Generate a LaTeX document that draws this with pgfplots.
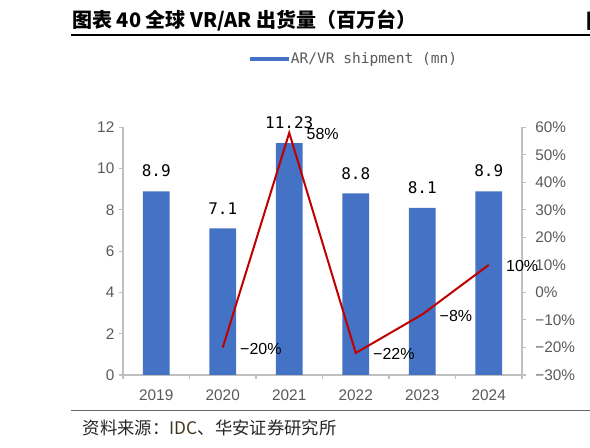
\documentclass[border=0pt]{standalone}
\usepackage{fontspec}
\setmainfont{Liberation Sans}
\newfontfamily\cjk{Noto Sans CJK SC}
\newfontfamily\mono{DejaVu Sans Mono}
\usepackage{pgfplots}
\pgfplotsset{compat=1.18}

\definecolor{barblue}{HTML}{4472C4}
\definecolor{linered}{HTML}{C00000}
\definecolor{axisgray}{HTML}{BFBFBF}
\definecolor{ticktext}{HTML}{595959}
\definecolor{idccol}{RGB}{64,56,30}

\begin{document}
\begin{tikzpicture}[x=0.75pt,y=0.75pt]
\useasboundingbox (0,0) rectangle (590,447);

% title and rules
\node[anchor=west, inner sep=0pt, font=\cjk\bfseries\fontsize{15}{17}\selectfont] at (72,426)
  {图表 40 全球 VR/AR 出货量（百万台）};
\node[anchor=west, inner sep=0pt, font=\cjk\bfseries\fontsize{15}{17}\selectfont] at (586.5,426) {图};
\draw[line width=0.8pt, black] (71,412) -- (590,412);
\draw[line width=1.1pt, black!60] (71,36.3) -- (590,36.3);
\node[anchor=west, inner sep=0pt, font=\cjk\fontsize{13}{15}\selectfont, text=black!85] at (82.7,18.7)
  {资料来源：\textcolor{idccol}{IDC}、华安证券研究所};

% bars, left axis
\begin{axis}[
  at={(92.25pt,54pt)}, anchor=south west,
  scale only axis, width=299.25pt, height=185.8pt,
  xmin=-0.5, xmax=5.5, ymin=0, ymax=12,
  axis x line*=bottom, axis y line*=left,
  axis line style={draw=axisgray, line width=0.8pt},
  tick align=outside,
  xtick={0,...,5},
  xticklabels={2019,2020,2021,2022,2023,2024},
  major x tick style={draw=none},
  minor xtick={-0.5,0.5,...,5.5},
  minor x tick style={draw=axisgray, line width=0.8pt},
  minor tick length=3pt,
  ytick={0,2,...,12},
  y tick style={draw=axisgray, line width=0.8pt},
  major tick length=3pt,
  /pgf/number format/assume math mode=true,
  xticklabel style={font=\fontsize{11.5}{13}\selectfont, text=ticktext, yshift=-4.5pt},
  yticklabel style={font=\fontsize{11.5}{13}\selectfont, text=ticktext},
  legend style={at={(0.318,1.276)}, anchor=west, draw=none, fill=none,
    inner sep=0pt, nodes={inner sep=1.5pt},
    font=\mono\fontsize{10.9}{12}\selectfont, text=ticktext},
  legend image code/.code={\fill[barblue] (0pt,-1.7pt) rectangle (29pt,1.7pt);},
  clip=false,
]
\addplot[ybar, bar width=20pt, fill=barblue, draw=none,
  point meta=explicit symbolic,
  nodes near coords,
  nodes near coords style={font=\mono\fontsize{12}{14}\selectfont, text=black, anchor=south, yshift=7pt}]
  coordinates {
    (0,8.9) [8.9]
    (1,7.1) [7.1]
    (2,11.23) [11.23]
    (3,8.8) [8.8]
    (4,8.1) [8.1]
    (5,8.9) [8.9]
  };
\addlegendentry{AR/VR shipment (mn)}
\end{axis}

% growth line, right axis
\begin{axis}[
  at={(92.25pt,54pt)}, anchor=south west,
  scale only axis, width=299.25pt, height=185.8pt,
  xmin=-0.5, xmax=5.5, ymin=-30, ymax=60,
  axis x line=none, axis y line*=right,
  axis line style={draw=axisgray, line width=0.8pt},
  tick align=outside,
  ytick={-30,-20,...,60},
  yticklabels={−30\%,−20\%,−10\%,0\%,10\%,20\%,30\%,40\%,50\%,60\%},
  y tick style={draw=axisgray, line width=0.8pt},
  major tick length=3pt,
  yticklabel style={font=\fontsize{11.5}{13}\selectfont, text=ticktext, xshift=3.5pt},
  clip=false,
]
\addplot[linered, line width=1.5pt, mark=none,
  point meta=explicit symbolic,
  nodes near coords,
  nodes near coords style={font=\fontsize{12}{14}\selectfont, text=black, anchor=west, xshift=9pt, yshift=-1pt}]
  coordinates {
    (1,-20) [−20\%]
    (2,58) [58\%]
    (3,-22) [−22\%]
    (4,-8) [−8\%]
    (5,10) [10\%]
  };
\end{axis}
\end{tikzpicture}
\end{document}
